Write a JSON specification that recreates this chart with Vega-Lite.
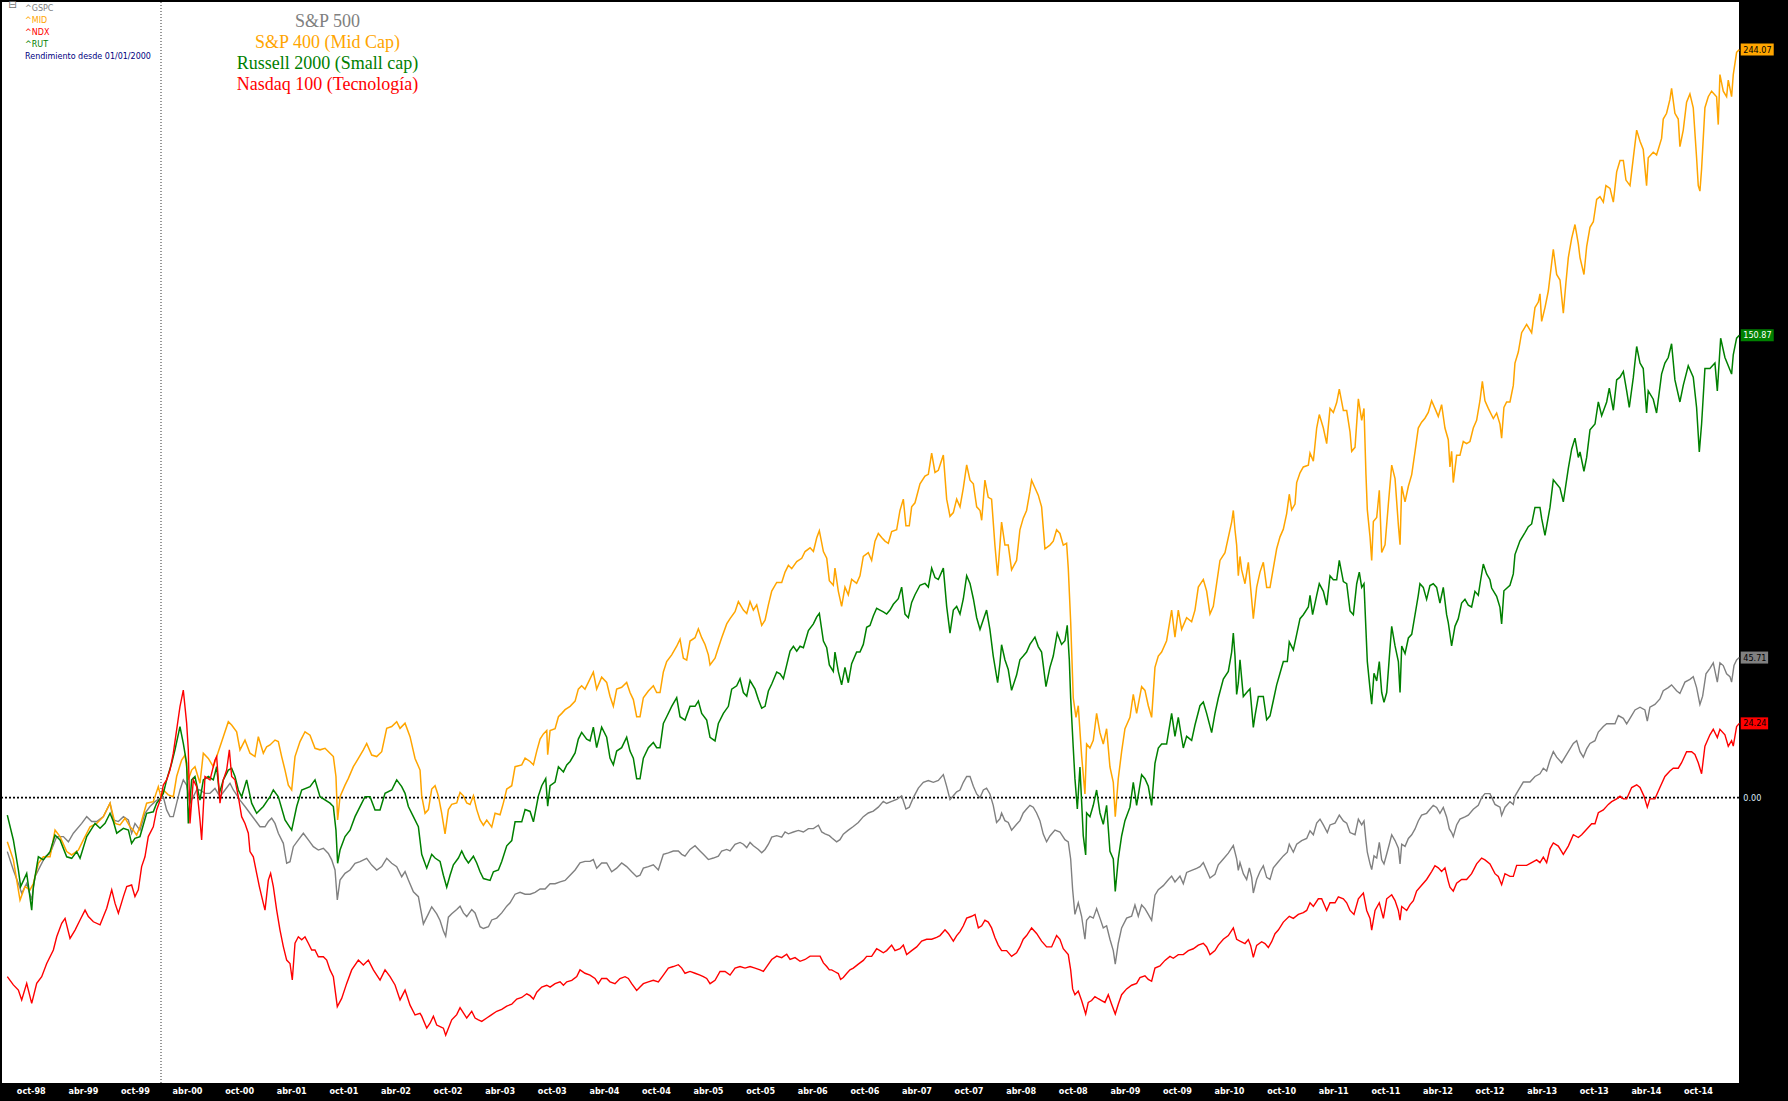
{
  "$schema": "https://vega.github.io/schema/vega-lite/v6.json",
  "width": 1737,
  "height": 1081,
  "autosize": {"type": "none"},
  "padding": {"left": 2, "top": 2, "right": 49, "bottom": 18},
  "background": "black",
  "config": {
    "view": {"fill": "white", "stroke": null},
    "axisY": {"disable": true},
    "axisX": {"titleOpacity": 0}
  },
  "datasets": {
    "spx": [
      {"t":1998.525,"v":-17.6},{"t":1998.583,"v":-23.6},{"t":1998.631,"v":-28.0},{"t":1998.663,"v":-31.2},{"t":1998.711,"v":-28.0},{"t":1998.759,"v":-33.4},{"t":1998.791,"v":-25.8},{"t":1998.839,"v":-22.5},{"t":1998.887,"v":-19.3},{"t":1998.935,"v":-18.2},{"t":1998.999,"v":-12.7},{"t":1999.063,"v":-12.7},{"t":1999.111,"v":-14.4},{"t":1999.159,"v":-11.6},{"t":1999.239,"v":-8.4},{"t":1999.287,"v":-6.2},{"t":1999.335,"v":-7.8},{"t":1999.383,"v":-7.8},{"t":1999.447,"v":-6.2},{"t":1999.511,"v":-1.8},{"t":1999.543,"v":-7.3},{"t":1999.591,"v":-7.8},{"t":1999.639,"v":-6.2},{"t":1999.687,"v":-7.3},{"t":1999.718,"v":-11.6},{"t":1999.750,"v":-8.4},{"t":1999.798,"v":-10.6},{"t":1999.846,"v":-5.1},{"t":1999.894,"v":-2.9},{"t":1999.942,"v":-1.3},{"t":2000.000,"v":0},
      {"t":2000.022,"v":0.3},{"t":2000.054,"v":-4.0},{"t":2000.086,"v":-6.2},{"t":2000.118,"v":-6.2},{"t":2000.150,"v":-1.8},{"t":2000.182,"v":2.5},{"t":2000.214,"v":5.8},{"t":2000.246,"v":4.1},{"t":2000.278,"v":-1.8},{"t":2000.310,"v":0.3},{"t":2000.342,"v":2.5},{"t":2000.374,"v":2.5},{"t":2000.422,"v":1.4},{"t":2000.470,"v":1.4},{"t":2000.518,"v":3.0},{"t":2000.566,"v":0.3},{"t":2000.614,"v":2.5},{"t":2000.662,"v":4.7},{"t":2000.694,"v":2.5},{"t":2000.726,"v":0.9},{"t":2000.758,"v":-0.8},{"t":2000.806,"v":-2.9},{"t":2000.854,"v":-5.1},{"t":2000.902,"v":-7.3},{"t":2000.950,"v":-9.5},{"t":2000.998,"v":-9.5},{"t":2001.030,"v":-7.8},{"t":2001.062,"v":-6.7},{"t":2001.094,"v":-8.4},{"t":2001.126,"v":-11.6},{"t":2001.174,"v":-14.9},{"t":2001.206,"v":-21.4},{"t":2001.238,"v":-20.9},{"t":2001.270,"v":-16.0},{"t":2001.318,"v":-13.8},{"t":2001.366,"v":-11.6},{"t":2001.414,"v":-13.8},{"t":2001.462,"v":-16.0},{"t":2001.510,"v":-17.1},{"t":2001.558,"v":-16.5},{"t":2001.606,"v":-18.2},{"t":2001.638,"v":-20.3},{"t":2001.670,"v":-23.6},{"t":2001.692,"v":-33.4},{"t":2001.718,"v":-26.9},{"t":2001.766,"v":-24.7},{"t":2001.814,"v":-23.6},{"t":2001.862,"v":-21.4},{"t":2001.910,"v":-20.9},{"t":2001.974,"v":-19.8},{"t":2002.022,"v":-22.0},{"t":2002.070,"v":-23.6},{"t":2002.118,"v":-22.5},{"t":2002.166,"v":-19.8},{"t":2002.214,"v":-21.4},{"t":2002.262,"v":-22.5},{"t":2002.310,"v":-25.8},{"t":2002.342,"v":-24.1},{"t":2002.374,"v":-26.9},{"t":2002.422,"v":-30.7},{"t":2002.470,"v":-32.3},
      {"t":2002.518,"v":-41.2},{"t":2002.566,"v":-37.9},{"t":2002.598,"v":-35.6},{"t":2002.646,"v":-37.9},{"t":2002.678,"v":-40.1},{"t":2002.710,"v":-43.5},{"t":2002.732,"v":-45.2},{"t":2002.758,"v":-39.0},{"t":2002.790,"v":-37.9},{"t":2002.838,"v":-36.5},{"t":2002.870,"v":-35.4},{"t":2002.902,"v":-37.6},{"t":2002.934,"v":-38.8},{"t":2002.982,"v":-36.5},{"t":2003.014,"v":-37.6},{"t":2003.062,"v":-42.1},{"t":2003.094,"v":-42.7},{"t":2003.142,"v":-42.1},{"t":2003.174,"v":-39.9},{"t":2003.222,"v":-39.3},{"t":2003.270,"v":-37.6},{"t":2003.318,"v":-35.4},{"t":2003.350,"v":-34.3},{"t":2003.398,"v":-31.5},{"t":2003.446,"v":-30.9},{"t":2003.494,"v":-31.5},{"t":2003.542,"v":-31.5},{"t":2003.590,"v":-30.9},{"t":2003.638,"v":-29.8},{"t":2003.686,"v":-29.8},{"t":2003.734,"v":-28.1},{"t":2003.782,"v":-28.1},{"t":2003.830,"v":-27.5},{"t":2003.878,"v":-27.0},{"t":2003.926,"v":-25.3},{"t":2003.974,"v":-23.6},{"t":2004.021,"v":-21.3},{"t":2004.069,"v":-20.8},{"t":2004.117,"v":-20.8},{"t":2004.149,"v":-20.2},{"t":2004.181,"v":-23.0},{"t":2004.229,"v":-21.3},{"t":2004.277,"v":-21.3},{"t":2004.325,"v":-24.2},{"t":2004.373,"v":-23.0},{"t":2004.421,"v":-21.3},{"t":2004.469,"v":-22.5},{"t":2004.517,"v":-24.2},{"t":2004.565,"v":-25.8},{"t":2004.597,"v":-25.3},{"t":2004.629,"v":-23.0},{"t":2004.677,"v":-22.5},{"t":2004.725,"v":-21.9},{"t":2004.773,"v":-23.6},{"t":2004.821,"v":-18.5},{"t":2004.869,"v":-18.0},{"t":2004.917,"v":-17.4},{"t":2004.965,"v":-17.4},{"t":2004.997,"v":-18.5},{"t":2005.029,"v":-19.1},{"t":2005.077,"v":-16.9},{"t":2005.125,"v":-15.7},{"t":2005.173,"v":-17.4},{"t":2005.205,"v":-18.5},{"t":2005.253,"v":-20.2},{"t":2005.301,"v":-19.7},{"t":2005.349,"v":-19.1},{"t":2005.381,"v":-17.4},{"t":2005.429,"v":-16.9},{"t":2005.461,"v":-17.4},{"t":2005.509,"v":-15.2},{"t":2005.557,"v":-14.6},{"t":2005.589,"v":-15.2},{"t":2005.621,"v":-16.3},{"t":2005.653,"v":-14.6},{"t":2005.685,"v":-15.7},{"t":2005.733,"v":-16.9},{"t":2005.765,"v":-18.0},{"t":2005.797,"v":-16.9},{"t":2005.829,"v":-15.2},{"t":2005.861,"v":-12.9},{"t":2005.909,"v":-12.4},{"t":2005.957,"v":-12.9},{"t":2005.989,"v":-11.2},{"t":2006.021,"v":-11.8},{"t":2006.069,"v":-11.2},{"t":2006.117,"v":-10.7},{"t":2006.165,"v":-11.2},{"t":2006.213,"v":-10.1},{"t":2006.261,"v":-10.1},{"t":2006.309,"v":-9.0},{"t":2006.341,"v":-11.2},{"t":2006.373,"v":-11.8},{"t":2006.414,"v":-12.4},
      {"t":2006.436,"v":-13.1},{"t":2006.484,"v":-14.4},{"t":2006.516,"v":-13.7},{"t":2006.548,"v":-11.9},{"t":2006.596,"v":-10.6},{"t":2006.644,"v":-9.4},{"t":2006.692,"v":-8.1},{"t":2006.740,"v":-6.2},{"t":2006.788,"v":-5.0},{"t":2006.836,"v":-4.4},{"t":2006.884,"v":-3.1},{"t":2006.932,"v":-1.2},{"t":2006.964,"v":-1.9},{"t":2007.012,"v":-1.2},{"t":2007.060,"v":-0.6},{"t":2007.108,"v":0.6},{"t":2007.149,"v":-3.7},{"t":2007.181,"v":-3.1},{"t":2007.220,"v":0.0},{"t":2007.268,"v":3.1},{"t":2007.316,"v":5.0},{"t":2007.364,"v":5.6},{"t":2007.412,"v":5.0},{"t":2007.460,"v":5.6},{"t":2007.508,"v":7.5},{"t":2007.540,"v":3.7},{"t":2007.572,"v":-0.6},{"t":2007.604,"v":0.6},{"t":2007.636,"v":1.9},{"t":2007.668,"v":2.5},{"t":2007.700,"v":5.0},{"t":2007.732,"v":6.9},{"t":2007.764,"v":6.9},{"t":2007.796,"v":3.7},{"t":2007.828,"v":1.2},{"t":2007.860,"v":0.0},{"t":2007.892,"v":2.5},{"t":2007.923,"v":3.1},{"t":2007.955,"v":1.2},{"t":2007.987,"v":-2.5},{"t":2008.019,"v":-8.1},{"t":2008.051,"v":-6.9},{"t":2008.067,"v":-5.0},{"t":2008.099,"v":-7.5},{"t":2008.131,"v":-8.1},{"t":2008.163,"v":-10.6},{"t":2008.211,"v":-8.7},{"t":2008.243,"v":-7.5},{"t":2008.275,"v":-5.0},{"t":2008.307,"v":-3.7},{"t":2008.339,"v":-2.5},{"t":2008.371,"v":-3.1},{"t":2008.403,"v":-5.0},{"t":2008.435,"v":-7.5},{"t":2008.467,"v":-11.9},{"t":2008.499,"v":-14.4},{"t":2008.531,"v":-12.5},{"t":2008.579,"v":-10.6},{"t":2008.627,"v":-11.2},{"t":2008.675,"v":-13.7},{"t":2008.707,"v":-14.4},{"t":2008.730,"v":-20.0},{"t":2008.749,"v":-30.0},{"t":2008.771,"v":-38.1},{"t":2008.803,"v":-34.3},{"t":2008.835,"v":-38.7},{"t":2008.867,"v":-46.2},{"t":2008.883,"v":-40.0},{"t":2008.915,"v":-38.7},{"t":2008.947,"v":-39.3},{"t":2008.979,"v":-36.2},{"t":2009.011,"v":-39.3},{"t":2009.043,"v":-42.5},{"t":2009.075,"v":-41.8},{"t":2009.107,"v":-46.2},{"t":2009.139,"v":-49.9},{"t":2009.158,"v":-54.3},{"t":2009.187,"v":-47.5},{"t":2009.219,"v":-42.5},{"t":2009.267,"v":-39.3},{"t":2009.315,"v":-38.7},{"t":2009.347,"v":-35.0},{"t":2009.379,"v":-38.7},{"t":2009.411,"v":-35.0},{"t":2009.443,"v":-36.2},{"t":2009.475,"v":-38.1},{"t":2009.507,"v":-40.0},{"t":2009.539,"v":-31.8},{"t":2009.571,"v":-30.0},{"t":2009.619,"v":-28.7},{"t":2009.667,"v":-26.8},{"t":2009.699,"v":-25.6},{"t":2009.731,"v":-27.5},{"t":2009.779,"v":-25.6},{"t":2009.811,"v":-28.1},{"t":2009.843,"v":-24.4},{"t":2009.891,"v":-23.7},{"t":2009.939,"v":-23.1},{"t":2009.971,"v":-22.5},{"t":2010.003,"v":-21.2},{"t":2010.035,"v":-23.7},{"t":2010.067,"v":-26.2},{"t":2010.115,"v":-25.0},{"t":2010.147,"v":-21.9},{"t":2010.195,"v":-20.0},{"t":2010.243,"v":-18.1},{"t":2010.291,"v":-15.6},{"t":2010.323,"v":-20.0},{"t":2010.339,"v":-23.7},{"t":2010.355,"v":-21.2},
      {"t":2010.387,"v":-24.8},{"t":2010.419,"v":-26.7},{"t":2010.445,"v":-22.9},{"t":2010.467,"v":-26.0},{"t":2010.483,"v":-31.1},{"t":2010.515,"v":-26.7},{"t":2010.547,"v":-24.1},{"t":2010.579,"v":-22.2},{"t":2010.611,"v":-26.0},{"t":2010.643,"v":-26.7},{"t":2010.675,"v":-22.9},{"t":2010.723,"v":-20.9},{"t":2010.771,"v":-19.0},{"t":2010.809,"v":-17.8},{"t":2010.828,"v":-15.2},{"t":2010.867,"v":-17.8},{"t":2010.899,"v":-15.2},{"t":2010.947,"v":-14.0},{"t":2010.995,"v":-13.3},{"t":2011.027,"v":-10.8},{"t":2011.059,"v":-12.1},{"t":2011.091,"v":-8.3},{"t":2011.123,"v":-7.0},{"t":2011.155,"v":-8.9},{"t":2011.193,"v":-11.4},{"t":2011.219,"v":-8.9},{"t":2011.267,"v":-8.3},{"t":2011.308,"v":-5.7},{"t":2011.347,"v":-7.6},{"t":2011.379,"v":-8.3},{"t":2011.411,"v":-11.4},{"t":2011.459,"v":-12.1},{"t":2011.491,"v":-7.0},{"t":2011.523,"v":-8.9},{"t":2011.545,"v":-7.6},{"t":2011.564,"v":-14.0},{"t":2011.577,"v":-17.8},{"t":2011.603,"v":-21.6},{"t":2011.619,"v":-23.5},{"t":2011.641,"v":-19.0},{"t":2011.667,"v":-19.7},{"t":2011.692,"v":-14.6},{"t":2011.715,"v":-20.3},{"t":2011.737,"v":-21.6},{"t":2011.763,"v":-18.4},{"t":2011.788,"v":-15.2},{"t":2011.811,"v":-12.1},{"t":2011.843,"v":-14.0},{"t":2011.875,"v":-16.5},{"t":2011.891,"v":-21.6},{"t":2011.907,"v":-15.2},{"t":2011.939,"v":-15.9},{"t":2011.971,"v":-13.3},{"t":2012.003,"v":-12.1},{"t":2012.035,"v":-10.2},{"t":2012.066,"v":-7.6},{"t":2012.098,"v":-5.7},{"t":2012.146,"v":-5.1},{"t":2012.178,"v":-3.8},{"t":2012.210,"v":-2.5},{"t":2012.242,"v":-3.2},{"t":2012.274,"v":-5.1},{"t":2012.306,"v":-3.2},{"t":2012.338,"v":-6.3},{"t":2012.364,"v":-10.2},{"t":2012.386,"v":-11.4},{"t":2012.402,"v":-12.7},{"t":2012.434,"v":-8.9},{"t":2012.466,"v":-7.0},{"t":2012.514,"v":-6.3},{"t":2012.546,"v":-5.7},{"t":2012.594,"v":-3.8},{"t":2012.642,"v":-2.5},{"t":2012.674,"v":0.0},{"t":2012.706,"v":1.3},{"t":2012.754,"v":1.3},
      {"t":2012.802,"v":-2.2},{"t":2012.850,"v":-3.1},{"t":2012.866,"v":-5.8},{"t":2012.898,"v":-3.1},{"t":2012.946,"v":-1.3},{"t":2012.978,"v":-2.2},{"t":2012.994,"v":0.5},{"t":2013.026,"v":2.4},{"t":2013.074,"v":5.1},{"t":2013.138,"v":5.1},{"t":2013.186,"v":6.9},{"t":2013.234,"v":7.8},{"t":2013.266,"v":9.6},{"t":2013.298,"v":8.7},{"t":2013.330,"v":12.3},{"t":2013.362,"v":15.0},{"t":2013.394,"v":13.2},{"t":2013.442,"v":11.4},{"t":2013.474,"v":13.2},{"t":2013.506,"v":15.0},{"t":2013.554,"v":17.7},{"t":2013.586,"v":18.6},{"t":2013.618,"v":15.0},{"t":2013.650,"v":13.2},{"t":2013.682,"v":15.9},{"t":2013.714,"v":17.7},{"t":2013.762,"v":18.6},{"t":2013.794,"v":21.4},{"t":2013.842,"v":23.2},{"t":2013.874,"v":24.1},{"t":2013.922,"v":24.1},{"t":2013.954,"v":24.1},{"t":2013.986,"v":26.8},{"t":2014.034,"v":25.9},{"t":2014.066,"v":24.1},{"t":2014.098,"v":25.9},{"t":2014.146,"v":28.6},{"t":2014.194,"v":29.5},{"t":2014.241,"v":28.6},{"t":2014.264,"v":25.0},{"t":2014.289,"v":29.5},{"t":2014.337,"v":30.4},{"t":2014.385,"v":32.2},{"t":2014.417,"v":34.9},{"t":2014.465,"v":35.9},{"t":2014.497,"v":36.8},{"t":2014.545,"v":34.9},{"t":2014.577,"v":34.0},{"t":2014.625,"v":37.7},{"t":2014.673,"v":38.6},{"t":2014.705,"v":39.5},{"t":2014.737,"v":35.9},{"t":2014.769,"v":30.4},{"t":2014.795,"v":33.1},{"t":2014.827,"v":40.4},{"t":2014.865,"v":42.2},{"t":2014.897,"v":44.0},{"t":2014.936,"v":37.7},{"t":2014.961,"v":44.0},{"t":2014.993,"v":43.1},{"t":2015.025,"v":40.4},{"t":2015.057,"v":39.5},{"t":2015.073,"v":37.7},{"t":2015.096,"v":43.1},{"t":2015.121,"v":44.9},{"t":2015.147,"v":45.71}
    ],
    "mid": [
      {"t":1998.525,"v":-14.4},{"t":1998.583,"v":-20.3},{"t":1998.647,"v":-33.4},{"t":1998.695,"v":-29.0},{"t":1998.743,"v":-30.1},{"t":1998.775,"v":-28.0},{"t":1998.823,"v":-21.4},{"t":1998.871,"v":-19.3},{"t":1998.935,"v":-19.3},{"t":1998.983,"v":-10.6},{"t":1999.031,"v":-12.7},{"t":1999.095,"v":-17.6},{"t":1999.143,"v":-18.7},{"t":1999.207,"v":-17.1},{"t":1999.255,"v":-13.8},{"t":1999.319,"v":-9.5},{"t":1999.383,"v":-8.4},{"t":1999.447,"v":-6.2},{"t":1999.511,"v":-1.8},{"t":1999.559,"v":-8.4},{"t":1999.607,"v":-8.9},{"t":1999.655,"v":-6.7},{"t":1999.703,"v":-9.5},{"t":1999.734,"v":-10.6},{"t":1999.766,"v":-12.2},{"t":1999.798,"v":-9.5},{"t":1999.862,"v":-1.8},{"t":1999.926,"v":-1.3},{"t":1999.974,"v":3.6},{"t":2000.000,"v":0},
      {"t":2000.022,"v":2.5},{"t":2000.070,"v":0.9},{"t":2000.118,"v":0.3},{"t":2000.150,"v":6.9},{"t":2000.198,"v":12.3},{"t":2000.230,"v":13.9},{"t":2000.262,"v":5.8},{"t":2000.294,"v":9.0},{"t":2000.326,"v":10.1},{"t":2000.374,"v":4.7},{"t":2000.406,"v":14.5},{"t":2000.454,"v":12.8},{"t":2000.502,"v":10.1},{"t":2000.550,"v":15.0},{"t":2000.598,"v":19.9},{"t":2000.646,"v":24.8},{"t":2000.678,"v":23.7},{"t":2000.726,"v":21.5},{"t":2000.758,"v":15.6},{"t":2000.806,"v":18.8},{"t":2000.854,"v":14.5},{"t":2000.902,"v":13.4},{"t":2000.934,"v":19.9},{"t":2000.982,"v":14.5},{"t":2001.014,"v":16.6},{"t":2001.046,"v":17.2},{"t":2001.094,"v":18.8},{"t":2001.126,"v":18.3},{"t":2001.158,"v":13.4},{"t":2001.190,"v":9.0},{"t":2001.222,"v":4.1},{"t":2001.254,"v":2.5},{"t":2001.286,"v":13.4},{"t":2001.334,"v":18.3},{"t":2001.382,"v":21.5},{"t":2001.430,"v":20.4},{"t":2001.478,"v":16.1},{"t":2001.526,"v":15.6},{"t":2001.574,"v":16.1},{"t":2001.622,"v":14.5},{"t":2001.654,"v":13.4},{"t":2001.679,"v":6.9},{"t":2001.695,"v":-7.3},{"t":2001.718,"v":0.3},{"t":2001.766,"v":4.1},{"t":2001.798,"v":6.3},{"t":2001.846,"v":10.1},{"t":2001.894,"v":12.8},{"t":2001.942,"v":15.6},{"t":2001.974,"v":17.7},{"t":2002.022,"v":13.9},{"t":2002.070,"v":13.4},{"t":2002.118,"v":15.0},{"t":2002.166,"v":22.6},{"t":2002.214,"v":23.2},{"t":2002.262,"v":24.8},{"t":2002.294,"v":22.6},{"t":2002.342,"v":24.3},{"t":2002.390,"v":19.9},{"t":2002.438,"v":12.8},{"t":2002.486,"v":9.0},
      {"t":2002.502,"v":0.6},{"t":2002.534,"v":-5.1},{"t":2002.566,"v":-3.9},{"t":2002.598,"v":2.8},{"t":2002.630,"v":3.9},{"t":2002.662,"v":0.6},{"t":2002.694,"v":-5.1},{"t":2002.726,"v":-11.8},{"t":2002.758,"v":-3.9},{"t":2002.790,"v":-2.2},{"t":2002.838,"v":-1.7},{"t":2002.870,"v":1.7},{"t":2002.902,"v":0.6},{"t":2002.934,"v":-1.7},{"t":2002.966,"v":-2.2},{"t":2002.998,"v":0.6},{"t":2003.030,"v":-3.9},{"t":2003.062,"v":-7.3},{"t":2003.094,"v":-9.0},{"t":2003.126,"v":-7.3},{"t":2003.174,"v":-9.6},{"t":2003.206,"v":-5.1},{"t":2003.254,"v":-5.6},{"t":2003.286,"v":-1.7},{"t":2003.318,"v":2.8},{"t":2003.366,"v":3.9},{"t":2003.398,"v":10.1},{"t":2003.462,"v":10.7},{"t":2003.494,"v":12.9},{"t":2003.542,"v":11.8},{"t":2003.574,"v":10.7},{"t":2003.606,"v":15.2},{"t":2003.638,"v":19.1},{"t":2003.670,"v":20.8},{"t":2003.702,"v":21.9},{"t":2003.711,"v":14.0},{"t":2003.734,"v":21.9},{"t":2003.782,"v":22.5},{"t":2003.814,"v":26.4},{"t":2003.846,"v":27.5},{"t":2003.878,"v":28.7},{"t":2003.926,"v":29.8},{"t":2003.974,"v":31.5},{"t":2004.005,"v":35.4},{"t":2004.037,"v":36.5},{"t":2004.069,"v":35.4},{"t":2004.101,"v":37.6},{"t":2004.149,"v":41.0},{"t":2004.181,"v":35.4},{"t":2004.229,"v":39.3},{"t":2004.277,"v":37.6},{"t":2004.309,"v":33.1},{"t":2004.341,"v":29.8},{"t":2004.373,"v":35.4},{"t":2004.421,"v":36.0},{"t":2004.469,"v":37.6},{"t":2004.501,"v":34.3},{"t":2004.533,"v":32.0},{"t":2004.565,"v":26.4},{"t":2004.597,"v":26.4},{"t":2004.629,"v":32.6},{"t":2004.677,"v":34.8},{"t":2004.725,"v":36.5},{"t":2004.757,"v":34.3},{"t":2004.789,"v":34.3},{"t":2004.821,"v":41.0},{"t":2004.853,"v":44.4},{"t":2004.901,"v":46.6},{"t":2004.949,"v":49.4},{"t":2004.981,"v":51.7},{"t":2005.013,"v":45.5},{"t":2005.045,"v":44.9},{"t":2005.077,"v":51.1},{"t":2005.125,"v":52.2},{"t":2005.157,"v":55.1},{"t":2005.189,"v":52.2},{"t":2005.221,"v":50.0},{"t":2005.253,"v":46.6},{"t":2005.269,"v":43.3},{"t":2005.317,"v":45.5},{"t":2005.349,"v":48.9},{"t":2005.381,"v":52.2},{"t":2005.429,"v":56.7},{"t":2005.461,"v":58.4},{"t":2005.509,"v":60.7},{"t":2005.541,"v":64.0},{"t":2005.589,"v":61.2},{"t":2005.621,"v":60.1},{"t":2005.653,"v":64.0},{"t":2005.685,"v":61.2},{"t":2005.717,"v":62.9},{"t":2005.765,"v":56.2},{"t":2005.797,"v":57.9},{"t":2005.829,"v":62.9},{"t":2005.861,"v":67.4},{"t":2005.909,"v":70.2},{"t":2005.957,"v":70.2},{"t":2005.989,"v":73.6},{"t":2006.021,"v":75.8},{"t":2006.053,"v":74.7},{"t":2006.101,"v":77.0},{"t":2006.149,"v":78.1},{"t":2006.181,"v":80.3},{"t":2006.229,"v":81.5},{"t":2006.261,"v":80.3},{"t":2006.293,"v":84.8},{"t":2006.318,"v":87.1},{"t":2006.357,"v":80.3},{"t":2006.389,"v":78.1},{"t":2006.414,"v":70.8},
      {"t":2006.452,"v":69.3},{"t":2006.468,"v":74.9},{"t":2006.500,"v":67.4},{"t":2006.532,"v":62.4},{"t":2006.564,"v":68.7},{"t":2006.596,"v":66.2},{"t":2006.628,"v":71.2},{"t":2006.676,"v":69.9},{"t":2006.708,"v":72.4},{"t":2006.740,"v":78.7},{"t":2006.788,"v":79.9},{"t":2006.820,"v":77.4},{"t":2006.852,"v":83.7},{"t":2006.884,"v":86.2},{"t":2006.916,"v":84.9},{"t":2006.948,"v":83.7},{"t":2006.980,"v":83.0},{"t":2007.012,"v":86.8},{"t":2007.060,"v":87.4},{"t":2007.092,"v":93.7},{"t":2007.124,"v":97.4},{"t":2007.149,"v":88.7},{"t":2007.181,"v":88.7},{"t":2007.204,"v":94.9},{"t":2007.236,"v":96.2},{"t":2007.284,"v":102.4},{"t":2007.332,"v":104.9},{"t":2007.364,"v":105.5},{"t":2007.396,"v":112.4},{"t":2007.428,"v":106.1},{"t":2007.460,"v":106.8},{"t":2007.508,"v":111.8},{"t":2007.540,"v":97.4},{"t":2007.572,"v":91.8},{"t":2007.604,"v":93.0},{"t":2007.636,"v":97.4},{"t":2007.668,"v":94.9},{"t":2007.700,"v":101.1},{"t":2007.732,"v":108.6},{"t":2007.764,"v":103.6},{"t":2007.796,"v":102.4},{"t":2007.828,"v":94.9},{"t":2007.860,"v":93.7},{"t":2007.876,"v":90.5},{"t":2007.907,"v":103.6},{"t":2007.939,"v":98.0},{"t":2007.971,"v":97.4},{"t":2008.003,"v":82.4},{"t":2008.029,"v":72.4},{"t":2008.051,"v":82.4},{"t":2008.067,"v":89.9},{"t":2008.099,"v":82.4},{"t":2008.131,"v":82.4},{"t":2008.163,"v":74.3},{"t":2008.211,"v":77.4},{"t":2008.243,"v":87.4},{"t":2008.275,"v":91.2},{"t":2008.307,"v":93.7},{"t":2008.339,"v":99.9},{"t":2008.355,"v":103.6},{"t":2008.387,"v":101.1},{"t":2008.419,"v":98.7},{"t":2008.451,"v":94.9},{"t":2008.483,"v":81.2},{"t":2008.531,"v":82.4},{"t":2008.563,"v":83.7},{"t":2008.595,"v":87.4},{"t":2008.627,"v":86.2},{"t":2008.659,"v":82.4},{"t":2008.691,"v":83.0},{"t":2008.707,"v":74.9},{"t":2008.730,"v":57.4},{"t":2008.755,"v":32.5},{"t":2008.781,"v":26.2},{"t":2008.803,"v":30.0},{"t":2008.835,"v":13.7},{"t":2008.867,"v":1.2},{"t":2008.883,"v":17.5},{"t":2008.915,"v":16.2},{"t":2008.947,"v":18.7},{"t":2008.979,"v":27.5},{"t":2009.011,"v":21.2},{"t":2009.043,"v":17.5},{"t":2009.075,"v":22.5},{"t":2009.107,"v":10.0},{"t":2009.139,"v":5.0},{"t":2009.158,"v":-6.2},{"t":2009.187,"v":6.2},{"t":2009.219,"v":15.0},{"t":2009.251,"v":22.5},{"t":2009.299,"v":26.2},{"t":2009.331,"v":33.7},{"t":2009.363,"v":27.5},{"t":2009.411,"v":36.2},{"t":2009.443,"v":35.0},{"t":2009.475,"v":30.0},{"t":2009.507,"v":26.2},{"t":2009.539,"v":42.5},{"t":2009.571,"v":46.2},{"t":2009.603,"v":47.5},{"t":2009.651,"v":51.2},{"t":2009.699,"v":61.2},{"t":2009.731,"v":52.4},{"t":2009.763,"v":61.2},{"t":2009.795,"v":54.9},{"t":2009.843,"v":58.7},{"t":2009.891,"v":57.4},{"t":2009.923,"v":61.2},{"t":2009.955,"v":68.7},{"t":2010.003,"v":71.2},{"t":2010.035,"v":67.4},{"t":2010.067,"v":59.9},{"t":2010.099,"v":62.4},{"t":2010.131,"v":69.9},{"t":2010.163,"v":77.4},{"t":2010.211,"v":79.9},{"t":2010.243,"v":84.9},{"t":2010.275,"v":89.9},{"t":2010.291,"v":93.7},{"t":2010.307,"v":87.4},{"t":2010.323,"v":82.4},{"t":2010.339,"v":72.4},{"t":2010.355,"v":78.7},
      {"t":2010.371,"v":74.3},{"t":2010.403,"v":69.8},{"t":2010.435,"v":76.8},{"t":2010.467,"v":64.7},{"t":2010.483,"v":58.4},{"t":2010.515,"v":68.6},{"t":2010.547,"v":73.6},{"t":2010.579,"v":76.8},{"t":2010.611,"v":68.6},{"t":2010.643,"v":68.6},{"t":2010.675,"v":74.9},{"t":2010.707,"v":81.2},{"t":2010.739,"v":85.1},{"t":2010.771,"v":87.6},{"t":2010.803,"v":92.7},{"t":2010.828,"v":99.0},{"t":2010.851,"v":93.9},{"t":2010.883,"v":95.8},{"t":2010.899,"v":102.8},{"t":2010.931,"v":106.0},{"t":2010.963,"v":107.9},{"t":2011.011,"v":108.5},{"t":2011.027,"v":112.4},{"t":2011.059,"v":109.8},{"t":2011.091,"v":120.6},{"t":2011.116,"v":125.0},{"t":2011.155,"v":120.6},{"t":2011.187,"v":115.5},{"t":2011.219,"v":127.0},{"t":2011.251,"v":125.7},{"t":2011.283,"v":128.9},{"t":2011.308,"v":133.3},{"t":2011.347,"v":126.3},{"t":2011.379,"v":126.3},{"t":2011.411,"v":119.3},{"t":2011.427,"v":113.0},{"t":2011.459,"v":114.3},{"t":2011.491,"v":130.1},{"t":2011.523,"v":123.1},{"t":2011.545,"v":127.0},{"t":2011.564,"v":105.4},{"t":2011.577,"v":93.9},{"t":2011.603,"v":85.1},{"t":2011.619,"v":77.4},{"t":2011.635,"v":90.1},{"t":2011.667,"v":91.4},{"t":2011.692,"v":100.3},{"t":2011.715,"v":80.0},{"t":2011.747,"v":82.5},{"t":2011.779,"v":95.8},{"t":2011.811,"v":108.5},{"t":2011.843,"v":104.1},{"t":2011.875,"v":88.9},{"t":2011.891,"v":82.5},{"t":2011.907,"v":101.6},{"t":2011.939,"v":96.5},{"t":2011.971,"v":101.6},{"t":2012.003,"v":105.4},{"t":2012.035,"v":113.0},{"t":2012.066,"v":120.6},{"t":2012.098,"v":122.5},{"t":2012.130,"v":123.8},{"t":2012.162,"v":125.7},{"t":2012.194,"v":129.5},{"t":2012.226,"v":127.0},{"t":2012.258,"v":124.4},{"t":2012.290,"v":128.2},{"t":2012.322,"v":120.6},{"t":2012.354,"v":116.8},{"t":2012.370,"v":107.9},{"t":2012.386,"v":113.0},{"t":2012.402,"v":102.8},{"t":2012.434,"v":111.7},{"t":2012.466,"v":111.7},{"t":2012.498,"v":116.2},{"t":2012.530,"v":115.5},{"t":2012.562,"v":116.2},{"t":2012.594,"v":120.6},{"t":2012.626,"v":123.1},{"t":2012.658,"v":129.5},{"t":2012.681,"v":135.8},{"t":2012.706,"v":129.5},{"t":2012.738,"v":127.0},
      {"t":2012.786,"v":123.7},{"t":2012.818,"v":125.5},{"t":2012.850,"v":121.9},{"t":2012.866,"v":117.3},{"t":2012.888,"v":127.3},{"t":2012.914,"v":129.1},{"t":2012.946,"v":129.1},{"t":2012.978,"v":134.5},{"t":2012.994,"v":141.8},{"t":2013.026,"v":145.4},{"t":2013.058,"v":151.7},{"t":2013.106,"v":154.4},{"t":2013.154,"v":151.7},{"t":2013.186,"v":159.9},{"t":2013.218,"v":161.7},{"t":2013.234,"v":164.4},{"t":2013.250,"v":155.4},{"t":2013.282,"v":159.9},{"t":2013.314,"v":165.3},{"t":2013.346,"v":174.4},{"t":2013.362,"v":178.9},{"t":2013.394,"v":170.7},{"t":2013.426,"v":168.9},{"t":2013.458,"v":158.1},{"t":2013.483,"v":168.0},{"t":2013.506,"v":176.2},{"t":2013.538,"v":182.5},{"t":2013.570,"v":187.0},{"t":2013.602,"v":180.7},{"t":2013.618,"v":176.2},{"t":2013.656,"v":170.7},{"t":2013.682,"v":179.8},{"t":2013.714,"v":186.1},{"t":2013.746,"v":187.9},{"t":2013.778,"v":195.2},{"t":2013.810,"v":196.1},{"t":2013.842,"v":194.3},{"t":2013.867,"v":199.7},{"t":2013.906,"v":198.8},{"t":2013.938,"v":194.3},{"t":2013.970,"v":204.2},{"t":2014.002,"v":207.9},{"t":2014.034,"v":207.9},{"t":2014.059,"v":201.5},{"t":2014.098,"v":199.7},{"t":2014.130,"v":208.8},{"t":2014.162,"v":217.8},{"t":2014.194,"v":214.2},{"t":2014.225,"v":211.5},{"t":2014.257,"v":199.7},{"t":2014.273,"v":208.8},{"t":2014.321,"v":210.6},{"t":2014.353,"v":209.7},{"t":2014.401,"v":215.1},{"t":2014.417,"v":221.4},{"t":2014.449,"v":223.3},{"t":2014.481,"v":227.8},{"t":2014.497,"v":231.4},{"t":2014.529,"v":223.3},{"t":2014.561,"v":221.4},{"t":2014.577,"v":212.4},{"t":2014.609,"v":217.8},{"t":2014.641,"v":226.9},{"t":2014.673,"v":229.6},{"t":2014.705,"v":225.1},{"t":2014.737,"v":208.8},{"t":2014.753,"v":199.7},{"t":2014.769,"v":197.9},{"t":2014.785,"v":205.1},{"t":2014.817,"v":225.1},{"t":2014.849,"v":228.7},{"t":2014.881,"v":230.5},{"t":2014.929,"v":228.7},{"t":2014.945,"v":219.6},{"t":2014.961,"v":235.9},{"t":2014.993,"v":230.5},{"t":2015.025,"v":228.7},{"t":2015.041,"v":234.1},{"t":2015.073,"v":228.7},{"t":2015.089,"v":235.9},{"t":2015.121,"v":243.2},{"t":2015.147,"v":244.07}
    ],
    "rut": [
      {"t":1998.525,"v":-5.7},{"t":1998.583,"v":-13.8},{"t":1998.631,"v":-23.6},{"t":1998.653,"v":-29.0},{"t":1998.711,"v":-24.7},{"t":1998.759,"v":-36.7},{"t":1998.775,"v":-29.0},{"t":1998.823,"v":-19.3},{"t":1998.871,"v":-20.3},{"t":1998.935,"v":-17.6},{"t":1998.983,"v":-12.2},{"t":1999.031,"v":-13.8},{"t":1999.095,"v":-19.3},{"t":1999.143,"v":-19.8},{"t":1999.191,"v":-17.6},{"t":1999.223,"v":-19.8},{"t":1999.287,"v":-12.7},{"t":1999.367,"v":-8.4},{"t":1999.415,"v":-10.0},{"t":1999.463,"v":-8.4},{"t":1999.511,"v":-5.1},{"t":1999.543,"v":-7.8},{"t":1999.575,"v":-11.6},{"t":1999.639,"v":-10.0},{"t":1999.687,"v":-10.6},{"t":1999.718,"v":-14.9},{"t":1999.750,"v":-13.3},{"t":1999.798,"v":-12.7},{"t":1999.862,"v":-5.1},{"t":1999.926,"v":-4.6},{"t":1999.958,"v":-1.8},{"t":2000.000,"v":0},
      {"t":2000.022,"v":1.4},{"t":2000.054,"v":5.8},{"t":2000.102,"v":11.2},{"t":2000.134,"v":15.6},{"t":2000.182,"v":23.2},{"t":2000.214,"v":17.7},{"t":2000.246,"v":11.2},{"t":2000.262,"v":-8.4},{"t":2000.294,"v":5.8},{"t":2000.326,"v":6.9},{"t":2000.374,"v":-0.8},{"t":2000.406,"v":5.8},{"t":2000.454,"v":6.9},{"t":2000.502,"v":5.8},{"t":2000.534,"v":10.1},{"t":2000.560,"v":1.4},{"t":2000.598,"v":5.8},{"t":2000.646,"v":9.0},{"t":2000.678,"v":9.6},{"t":2000.710,"v":6.9},{"t":2000.742,"v":2.5},{"t":2000.774,"v":0.3},{"t":2000.822,"v":5.8},{"t":2000.870,"v":-1.8},{"t":2000.918,"v":-5.1},{"t":2000.982,"v":-2.9},{"t":2001.046,"v":0.3},{"t":2001.078,"v":2.5},{"t":2001.126,"v":0.3},{"t":2001.190,"v":-7.3},{"t":2001.254,"v":-10.6},{"t":2001.302,"v":-2.9},{"t":2001.350,"v":2.5},{"t":2001.430,"v":3.6},{"t":2001.478,"v":5.8},{"t":2001.526,"v":0.3},{"t":2001.622,"v":-1.8},{"t":2001.654,"v":-2.9},{"t":2001.679,"v":-10.6},{"t":2001.695,"v":-21.4},{"t":2001.718,"v":-17.1},{"t":2001.766,"v":-12.7},{"t":2001.814,"v":-10.6},{"t":2001.862,"v":-6.2},{"t":2001.910,"v":-2.9},{"t":2001.958,"v":0.3},{"t":2002.006,"v":0.3},{"t":2002.054,"v":-4.0},{"t":2002.102,"v":-4.0},{"t":2002.150,"v":1.4},{"t":2002.214,"v":2.5},{"t":2002.262,"v":5.8},{"t":2002.310,"v":3.6},{"t":2002.342,"v":1.4},{"t":2002.374,"v":-2.9},{"t":2002.422,"v":-6.2},{"t":2002.470,"v":-9.5},
      {"t":2002.502,"v":-18.5},{"t":2002.550,"v":-23.0},{"t":2002.598,"v":-18.5},{"t":2002.630,"v":-19.7},{"t":2002.678,"v":-20.8},{"t":2002.710,"v":-25.3},{"t":2002.742,"v":-29.2},{"t":2002.774,"v":-25.3},{"t":2002.806,"v":-21.9},{"t":2002.854,"v":-19.7},{"t":2002.886,"v":-17.4},{"t":2002.918,"v":-19.7},{"t":2002.950,"v":-21.3},{"t":2002.998,"v":-19.1},{"t":2003.030,"v":-21.3},{"t":2003.062,"v":-24.2},{"t":2003.094,"v":-26.4},{"t":2003.158,"v":-27.0},{"t":2003.190,"v":-24.2},{"t":2003.238,"v":-23.6},{"t":2003.270,"v":-20.8},{"t":2003.318,"v":-15.7},{"t":2003.366,"v":-14.0},{"t":2003.398,"v":-7.9},{"t":2003.462,"v":-7.9},{"t":2003.494,"v":-3.9},{"t":2003.542,"v":-4.5},{"t":2003.574,"v":-7.9},{"t":2003.622,"v":0.6},{"t":2003.654,"v":3.9},{"t":2003.692,"v":6.2},{"t":2003.711,"v":-2.8},{"t":2003.734,"v":3.9},{"t":2003.782,"v":5.1},{"t":2003.814,"v":10.1},{"t":2003.862,"v":8.4},{"t":2003.894,"v":10.7},{"t":2003.926,"v":11.8},{"t":2003.974,"v":14.6},{"t":2004.005,"v":19.1},{"t":2004.037,"v":21.3},{"t":2004.085,"v":19.1},{"t":2004.117,"v":18.5},{"t":2004.149,"v":23.0},{"t":2004.181,"v":16.3},{"t":2004.229,"v":23.0},{"t":2004.277,"v":19.7},{"t":2004.309,"v":12.9},{"t":2004.341,"v":10.7},{"t":2004.373,"v":15.2},{"t":2004.421,"v":16.3},{"t":2004.469,"v":19.7},{"t":2004.501,"v":15.2},{"t":2004.533,"v":12.9},{"t":2004.565,"v":6.2},{"t":2004.597,"v":6.2},{"t":2004.629,"v":12.9},{"t":2004.677,"v":16.3},{"t":2004.725,"v":18.0},{"t":2004.757,"v":16.3},{"t":2004.789,"v":16.3},{"t":2004.821,"v":24.2},{"t":2004.853,"v":26.4},{"t":2004.901,"v":29.8},{"t":2004.949,"v":32.6},{"t":2004.981,"v":26.4},{"t":2005.029,"v":25.3},{"t":2005.077,"v":29.8},{"t":2005.125,"v":29.8},{"t":2005.157,"v":31.5},{"t":2005.189,"v":27.5},{"t":2005.237,"v":25.3},{"t":2005.269,"v":19.7},{"t":2005.317,"v":18.5},{"t":2005.349,"v":24.2},{"t":2005.397,"v":27.5},{"t":2005.445,"v":29.8},{"t":2005.477,"v":35.4},{"t":2005.525,"v":36.5},{"t":2005.557,"v":38.8},{"t":2005.589,"v":34.3},{"t":2005.621,"v":33.1},{"t":2005.653,"v":38.2},{"t":2005.701,"v":35.4},{"t":2005.733,"v":32.0},{"t":2005.765,"v":29.2},{"t":2005.797,"v":29.8},{"t":2005.829,"v":34.8},{"t":2005.861,"v":37.1},{"t":2005.909,"v":41.0},{"t":2005.941,"v":40.4},{"t":2005.973,"v":38.8},{"t":2006.005,"v":43.3},{"t":2006.037,"v":47.8},{"t":2006.069,"v":49.4},{"t":2006.101,"v":47.8},{"t":2006.133,"v":49.4},{"t":2006.165,"v":48.9},{"t":2006.213,"v":54.5},{"t":2006.261,"v":56.7},{"t":2006.293,"v":59.0},{"t":2006.318,"v":60.1},{"t":2006.357,"v":51.1},{"t":2006.389,"v":48.9},{"t":2006.414,"v":43.3},
      {"t":2006.452,"v":41.2},{"t":2006.468,"v":47.5},{"t":2006.500,"v":41.2},{"t":2006.532,"v":36.8},{"t":2006.564,"v":42.5},{"t":2006.596,"v":37.5},{"t":2006.628,"v":43.7},{"t":2006.676,"v":47.5},{"t":2006.708,"v":47.5},{"t":2006.740,"v":50.0},{"t":2006.772,"v":55.6},{"t":2006.804,"v":56.2},{"t":2006.836,"v":59.3},{"t":2006.868,"v":61.8},{"t":2006.900,"v":61.2},{"t":2006.932,"v":60.6},{"t":2006.964,"v":59.9},{"t":2006.996,"v":61.2},{"t":2007.028,"v":63.1},{"t":2007.076,"v":64.9},{"t":2007.108,"v":68.7},{"t":2007.140,"v":59.9},{"t":2007.172,"v":58.7},{"t":2007.204,"v":63.7},{"t":2007.236,"v":66.2},{"t":2007.284,"v":69.3},{"t":2007.332,"v":69.9},{"t":2007.364,"v":68.7},{"t":2007.396,"v":74.9},{"t":2007.428,"v":71.8},{"t":2007.460,"v":71.2},{"t":2007.508,"v":74.9},{"t":2007.540,"v":62.4},{"t":2007.572,"v":53.7},{"t":2007.604,"v":61.2},{"t":2007.636,"v":62.4},{"t":2007.668,"v":59.9},{"t":2007.700,"v":64.9},{"t":2007.732,"v":72.4},{"t":2007.764,"v":69.9},{"t":2007.796,"v":64.9},{"t":2007.828,"v":58.7},{"t":2007.860,"v":54.9},{"t":2007.892,"v":58.1},{"t":2007.923,"v":61.2},{"t":2007.955,"v":54.9},{"t":2007.987,"v":46.2},{"t":2008.029,"v":37.5},{"t":2008.051,"v":43.7},{"t":2008.067,"v":49.9},{"t":2008.099,"v":45.0},{"t":2008.131,"v":41.8},{"t":2008.163,"v":35.0},{"t":2008.211,"v":40.0},{"t":2008.243,"v":45.0},{"t":2008.275,"v":46.2},{"t":2008.307,"v":47.5},{"t":2008.339,"v":50.0},{"t":2008.387,"v":52.4},{"t":2008.419,"v":49.3},{"t":2008.451,"v":47.5},{"t":2008.493,"v":36.2},{"t":2008.531,"v":42.5},{"t":2008.563,"v":46.2},{"t":2008.601,"v":53.7},{"t":2008.643,"v":50.0},{"t":2008.675,"v":51.2},{"t":2008.697,"v":56.2},{"t":2008.717,"v":45.0},{"t":2008.730,"v":32.5},{"t":2008.755,"v":16.2},{"t":2008.771,"v":6.2},{"t":2008.794,"v":-3.7},{"t":2008.819,"v":10.0},{"t":2008.851,"v":-12.5},{"t":2008.874,"v":-18.7},{"t":2008.883,"v":-5.0},{"t":2008.915,"v":-6.2},{"t":2008.947,"v":-2.5},{"t":2008.979,"v":2.5},{"t":2009.011,"v":-5.0},{"t":2009.043,"v":-8.7},{"t":2009.075,"v":-2.5},{"t":2009.107,"v":-17.5},{"t":2009.139,"v":-20.0},{"t":2009.158,"v":-30.6},{"t":2009.187,"v":-20.0},{"t":2009.219,"v":-12.5},{"t":2009.251,"v":-7.5},{"t":2009.299,"v":-3.1},{"t":2009.331,"v":5.0},{"t":2009.363,"v":-2.5},{"t":2009.411,"v":7.5},{"t":2009.443,"v":6.2},{"t":2009.475,"v":3.7},{"t":2009.507,"v":-2.5},{"t":2009.539,"v":11.2},{"t":2009.571,"v":16.2},{"t":2009.603,"v":17.5},{"t":2009.651,"v":17.5},{"t":2009.699,"v":27.5},{"t":2009.731,"v":20.0},{"t":2009.763,"v":26.2},{"t":2009.811,"v":16.2},{"t":2009.843,"v":20.0},{"t":2009.891,"v":18.7},{"t":2009.923,"v":23.7},{"t":2009.971,"v":30.0},{"t":2010.003,"v":31.2},{"t":2010.035,"v":27.5},{"t":2010.083,"v":21.2},{"t":2010.115,"v":27.5},{"t":2010.147,"v":32.5},{"t":2010.195,"v":38.7},{"t":2010.243,"v":41.2},{"t":2010.275,"v":47.5},{"t":2010.291,"v":53.7},{"t":2010.307,"v":46.2},{"t":2010.323,"v":33.7},{"t":2010.339,"v":37.5},{"t":2010.355,"v":45.0},
      {"t":2010.387,"v":33.0},{"t":2010.419,"v":34.3},{"t":2010.451,"v":35.5},{"t":2010.483,"v":22.9},{"t":2010.499,"v":26.7},{"t":2010.531,"v":33.0},{"t":2010.579,"v":33.0},{"t":2010.611,"v":25.4},{"t":2010.643,"v":26.7},{"t":2010.675,"v":31.7},{"t":2010.707,"v":36.8},{"t":2010.739,"v":40.6},{"t":2010.771,"v":44.4},{"t":2010.809,"v":44.4},{"t":2010.828,"v":50.8},{"t":2010.867,"v":48.2},{"t":2010.899,"v":53.3},{"t":2010.931,"v":58.4},{"t":2010.963,"v":59.7},{"t":2011.011,"v":62.2},{"t":2011.027,"v":66.0},{"t":2011.052,"v":59.7},{"t":2011.091,"v":66.0},{"t":2011.116,"v":69.8},{"t":2011.155,"v":67.3},{"t":2011.187,"v":62.8},{"t":2011.219,"v":72.4},{"t":2011.251,"v":71.1},{"t":2011.283,"v":71.1},{"t":2011.308,"v":77.4},{"t":2011.347,"v":70.5},{"t":2011.379,"v":69.8},{"t":2011.411,"v":60.9},{"t":2011.443,"v":59.7},{"t":2011.475,"v":69.8},{"t":2011.500,"v":73.6},{"t":2011.523,"v":68.6},{"t":2011.545,"v":69.8},{"t":2011.564,"v":54.6},{"t":2011.577,"v":44.4},{"t":2011.603,"v":35.5},{"t":2011.619,"v":30.5},{"t":2011.641,"v":40.6},{"t":2011.667,"v":38.1},{"t":2011.692,"v":44.4},{"t":2011.715,"v":34.3},{"t":2011.737,"v":31.1},{"t":2011.763,"v":34.3},{"t":2011.788,"v":45.7},{"t":2011.811,"v":55.9},{"t":2011.843,"v":49.5},{"t":2011.875,"v":44.4},{"t":2011.891,"v":34.3},{"t":2011.907,"v":49.5},{"t":2011.939,"v":47.0},{"t":2011.971,"v":52.1},{"t":2012.003,"v":53.3},{"t":2012.035,"v":59.7},{"t":2012.066,"v":66.0},{"t":2012.082,"v":69.8},{"t":2012.114,"v":68.6},{"t":2012.146,"v":64.7},{"t":2012.178,"v":69.2},{"t":2012.210,"v":69.8},{"t":2012.242,"v":68.6},{"t":2012.274,"v":63.5},{"t":2012.306,"v":68.6},{"t":2012.338,"v":59.7},{"t":2012.354,"v":57.1},{"t":2012.386,"v":49.5},{"t":2012.418,"v":55.9},{"t":2012.450,"v":58.4},{"t":2012.482,"v":63.5},{"t":2012.514,"v":64.7},{"t":2012.546,"v":62.8},{"t":2012.578,"v":62.2},{"t":2012.610,"v":67.3},{"t":2012.642,"v":66.0},{"t":2012.665,"v":71.1},{"t":2012.690,"v":76.2},{"t":2012.722,"v":73.0},{"t":2012.754,"v":71.1},
      {"t":2012.770,"v":68.4},{"t":2012.818,"v":65.7},{"t":2012.850,"v":62.1},{"t":2012.866,"v":56.7},{"t":2012.888,"v":67.5},{"t":2012.946,"v":69.3},{"t":2012.978,"v":73.0},{"t":2012.994,"v":79.3},{"t":2013.042,"v":83.8},{"t":2013.090,"v":86.5},{"t":2013.122,"v":88.4},{"t":2013.154,"v":89.3},{"t":2013.186,"v":94.7},{"t":2013.234,"v":94.7},{"t":2013.250,"v":91.1},{"t":2013.282,"v":85.6},{"t":2013.330,"v":94.7},{"t":2013.362,"v":103.7},{"t":2013.426,"v":101.0},{"t":2013.458,"v":96.5},{"t":2013.506,"v":107.4},{"t":2013.538,"v":113.7},{"t":2013.570,"v":117.3},{"t":2013.602,"v":111.0},{"t":2013.618,"v":112.8},{"t":2013.656,"v":106.5},{"t":2013.682,"v":111.0},{"t":2013.714,"v":120.0},{"t":2013.762,"v":121.9},{"t":2013.794,"v":129.1},{"t":2013.826,"v":124.6},{"t":2013.874,"v":129.1},{"t":2013.899,"v":133.6},{"t":2013.938,"v":126.4},{"t":2013.970,"v":136.3},{"t":2014.002,"v":137.2},{"t":2014.034,"v":139.1},{"t":2014.066,"v":132.7},{"t":2014.091,"v":127.3},{"t":2014.130,"v":137.2},{"t":2014.162,"v":147.2},{"t":2014.194,"v":141.8},{"t":2014.225,"v":140.0},{"t":2014.257,"v":125.5},{"t":2014.273,"v":132.7},{"t":2014.321,"v":130.0},{"t":2014.353,"v":125.5},{"t":2014.401,"v":138.2},{"t":2014.433,"v":141.8},{"t":2014.465,"v":143.6},{"t":2014.497,"v":148.1},{"t":2014.529,"v":136.3},{"t":2014.577,"v":129.1},{"t":2014.609,"v":134.5},{"t":2014.657,"v":140.9},{"t":2014.705,"v":137.2},{"t":2014.737,"v":127.3},{"t":2014.763,"v":112.8},{"t":2014.785,"v":121.9},{"t":2014.817,"v":140.0},{"t":2014.865,"v":140.0},{"t":2014.913,"v":141.8},{"t":2014.936,"v":132.7},{"t":2014.968,"v":149.9},{"t":2015.009,"v":143.6},{"t":2015.041,"v":140.9},{"t":2015.073,"v":138.2},{"t":2015.089,"v":144.5},{"t":2015.121,"v":149.9},{"t":2015.147,"v":150.87}
    ],
    "ndx": [
      {"t":1998.525,"v":-58.4},{"t":1998.583,"v":-61.1},{"t":1998.631,"v":-62.8},{"t":1998.663,"v":-66.0},{"t":1998.711,"v":-60.6},{"t":1998.759,"v":-67.1},{"t":1998.807,"v":-60.6},{"t":1998.855,"v":-58.4},{"t":1998.903,"v":-54.1},{"t":1998.967,"v":-49.7},{"t":1998.999,"v":-45.4},{"t":1999.047,"v":-41.0},{"t":1999.079,"v":-39.4},{"t":1999.127,"v":-45.9},{"t":1999.175,"v":-43.2},{"t":1999.223,"v":-39.9},{"t":1999.271,"v":-36.7},{"t":1999.303,"v":-38.8},{"t":1999.351,"v":-40.5},{"t":1999.415,"v":-41.5},{"t":1999.447,"v":-38.8},{"t":1999.479,"v":-36.1},{"t":1999.527,"v":-30.1},{"t":1999.559,"v":-34.5},{"t":1999.591,"v":-37.7},{"t":1999.639,"v":-32.3},{"t":1999.671,"v":-29.0},{"t":1999.718,"v":-28.5},{"t":1999.750,"v":-32.3},{"t":1999.782,"v":-30.1},{"t":1999.814,"v":-22.5},{"t":1999.846,"v":-19.3},{"t":1999.878,"v":-12.7},{"t":1999.926,"v":-9.5},{"t":1999.958,"v":-4.0},{"t":2000.000,"v":0},
      {"t":2000.022,"v":4.1},{"t":2000.054,"v":5.8},{"t":2000.086,"v":9.0},{"t":2000.118,"v":14.5},{"t":2000.150,"v":22.1},{"t":2000.182,"v":29.7},{"t":2000.214,"v":35.1},{"t":2000.246,"v":24.3},{"t":2000.262,"v":15.6},{"t":2000.278,"v":-8.4},{"t":2000.310,"v":5.8},{"t":2000.342,"v":3.6},{"t":2000.374,"v":-7.3},{"t":2000.390,"v":-13.8},{"t":2000.422,"v":6.9},{"t":2000.470,"v":5.8},{"t":2000.518,"v":12.3},{"t":2000.534,"v":13.4},{"t":2000.566,"v":-1.8},{"t":2000.598,"v":5.8},{"t":2000.630,"v":9.0},{"t":2000.656,"v":15.6},{"t":2000.678,"v":6.9},{"t":2000.710,"v":5.8},{"t":2000.742,"v":0.3},{"t":2000.774,"v":-6.2},{"t":2000.806,"v":-8.4},{"t":2000.838,"v":-11.6},{"t":2000.854,"v":-17.6},{"t":2000.886,"v":-19.3},{"t":2000.918,"v":-24.7},{"t":2000.944,"v":-29.0},{"t":2000.982,"v":-34.5},{"t":2000.998,"v":-36.7},{"t":2001.030,"v":-26.9},{"t":2001.052,"v":-24.7},{"t":2001.078,"v":-29.0},{"t":2001.110,"v":-36.7},{"t":2001.142,"v":-43.2},{"t":2001.174,"v":-48.6},{"t":2001.206,"v":-53.0},{"t":2001.238,"v":-54.1},{"t":2001.260,"v":-59.5},{"t":2001.286,"v":-47.5},{"t":2001.318,"v":-45.4},{"t":2001.350,"v":-46.4},{"t":2001.382,"v":-45.4},{"t":2001.414,"v":-47.5},{"t":2001.446,"v":-49.7},{"t":2001.478,"v":-49.7},{"t":2001.510,"v":-51.9},{"t":2001.558,"v":-51.9},{"t":2001.590,"v":-53.0},{"t":2001.622,"v":-56.2},{"t":2001.654,"v":-58.4},{"t":2001.692,"v":-68.2},{"t":2001.734,"v":-65.5},{"t":2001.782,"v":-60.6},{"t":2001.830,"v":-56.2},{"t":2001.894,"v":-53.0},{"t":2001.942,"v":-54.6},{"t":2001.990,"v":-53.0},{"t":2002.038,"v":-56.2},{"t":2002.102,"v":-59.5},{"t":2002.150,"v":-56.2},{"t":2002.198,"v":-58.4},{"t":2002.246,"v":-61.1},{"t":2002.294,"v":-66.0},{"t":2002.342,"v":-62.8},{"t":2002.390,"v":-67.7},{"t":2002.438,"v":-70.9},{"t":2002.486,"v":-70.4},
      {"t":2002.502,"v":-71.3},{"t":2002.550,"v":-75.2},{"t":2002.582,"v":-73.6},{"t":2002.614,"v":-71.3},{"t":2002.646,"v":-74.2},{"t":2002.678,"v":-74.7},{"t":2002.710,"v":-75.2},{"t":2002.732,"v":-77.5},{"t":2002.758,"v":-75.2},{"t":2002.790,"v":-72.5},{"t":2002.838,"v":-70.8},{"t":2002.870,"v":-68.5},{"t":2002.902,"v":-70.2},{"t":2002.934,"v":-71.9},{"t":2002.982,"v":-69.7},{"t":2003.014,"v":-71.9},{"t":2003.046,"v":-72.5},{"t":2003.078,"v":-73.0},{"t":2003.126,"v":-71.9},{"t":2003.174,"v":-70.8},{"t":2003.222,"v":-69.7},{"t":2003.270,"v":-69.1},{"t":2003.318,"v":-68.0},{"t":2003.366,"v":-67.4},{"t":2003.414,"v":-65.7},{"t":2003.462,"v":-65.2},{"t":2003.510,"v":-64.0},{"t":2003.542,"v":-64.6},{"t":2003.574,"v":-65.7},{"t":2003.606,"v":-63.5},{"t":2003.654,"v":-61.8},{"t":2003.702,"v":-61.2},{"t":2003.734,"v":-61.8},{"t":2003.782,"v":-60.7},{"t":2003.830,"v":-60.1},{"t":2003.862,"v":-61.2},{"t":2003.894,"v":-60.1},{"t":2003.942,"v":-59.6},{"t":2003.990,"v":-58.4},{"t":2004.021,"v":-56.2},{"t":2004.069,"v":-57.3},{"t":2004.117,"v":-57.9},{"t":2004.165,"v":-59.0},{"t":2004.197,"v":-60.7},{"t":2004.229,"v":-59.0},{"t":2004.277,"v":-59.0},{"t":2004.309,"v":-60.1},{"t":2004.357,"v":-60.7},{"t":2004.405,"v":-59.0},{"t":2004.453,"v":-58.4},{"t":2004.485,"v":-59.0},{"t":2004.517,"v":-60.7},{"t":2004.565,"v":-62.9},{"t":2004.597,"v":-61.8},{"t":2004.629,"v":-60.7},{"t":2004.677,"v":-60.1},{"t":2004.725,"v":-59.6},{"t":2004.773,"v":-60.1},{"t":2004.821,"v":-57.9},{"t":2004.869,"v":-55.6},{"t":2004.917,"v":-55.1},{"t":2004.965,"v":-54.5},{"t":2004.997,"v":-55.6},{"t":2005.029,"v":-57.3},{"t":2005.077,"v":-56.7},{"t":2005.125,"v":-57.3},{"t":2005.173,"v":-57.9},{"t":2005.205,"v":-58.4},{"t":2005.237,"v":-59.0},{"t":2005.269,"v":-60.7},{"t":2005.317,"v":-59.6},{"t":2005.365,"v":-56.7},{"t":2005.413,"v":-56.7},{"t":2005.461,"v":-57.9},{"t":2005.509,"v":-55.6},{"t":2005.557,"v":-55.1},{"t":2005.605,"v":-55.6},{"t":2005.653,"v":-55.1},{"t":2005.701,"v":-55.6},{"t":2005.749,"v":-56.2},{"t":2005.781,"v":-56.7},{"t":2005.813,"v":-55.1},{"t":2005.861,"v":-52.8},{"t":2005.909,"v":-51.7},{"t":2005.957,"v":-52.2},{"t":2006.005,"v":-51.1},{"t":2006.037,"v":-52.8},{"t":2006.085,"v":-52.2},{"t":2006.133,"v":-53.4},{"t":2006.181,"v":-52.8},{"t":2006.229,"v":-51.7},{"t":2006.277,"v":-51.7},{"t":2006.325,"v":-51.7},{"t":2006.357,"v":-53.9},{"t":2006.389,"v":-55.1},{"t":2006.414,"v":-56.2},
      {"t":2006.436,"v":-56.2},{"t":2006.468,"v":-56.8},{"t":2006.500,"v":-57.4},{"t":2006.522,"v":-59.3},{"t":2006.548,"v":-58.7},{"t":2006.580,"v":-57.4},{"t":2006.612,"v":-56.2},{"t":2006.644,"v":-55.6},{"t":2006.692,"v":-54.3},{"t":2006.740,"v":-53.1},{"t":2006.772,"v":-51.8},{"t":2006.820,"v":-51.8},{"t":2006.868,"v":-49.3},{"t":2006.900,"v":-49.9},{"t":2006.932,"v":-50.6},{"t":2006.964,"v":-49.9},{"t":2007.012,"v":-48.1},{"t":2007.044,"v":-49.9},{"t":2007.092,"v":-49.3},{"t":2007.124,"v":-48.1},{"t":2007.156,"v":-51.2},{"t":2007.204,"v":-49.9},{"t":2007.252,"v":-48.7},{"t":2007.300,"v":-46.8},{"t":2007.348,"v":-46.2},{"t":2007.396,"v":-46.2},{"t":2007.444,"v":-45.6},{"t":2007.476,"v":-45.0},{"t":2007.524,"v":-43.1},{"t":2007.556,"v":-44.3},{"t":2007.604,"v":-46.8},{"t":2007.636,"v":-45.0},{"t":2007.668,"v":-43.7},{"t":2007.700,"v":-41.8},{"t":2007.732,"v":-39.3},{"t":2007.780,"v":-38.7},{"t":2007.812,"v":-38.1},{"t":2007.844,"v":-42.5},{"t":2007.876,"v":-41.8},{"t":2007.907,"v":-40.0},{"t":2007.939,"v":-40.6},{"t":2007.971,"v":-42.5},{"t":2008.003,"v":-45.6},{"t":2008.035,"v":-48.1},{"t":2008.067,"v":-49.9},{"t":2008.115,"v":-49.9},{"t":2008.163,"v":-51.8},{"t":2008.211,"v":-50.6},{"t":2008.243,"v":-48.7},{"t":2008.275,"v":-46.2},{"t":2008.307,"v":-45.0},{"t":2008.355,"v":-42.5},{"t":2008.403,"v":-44.3},{"t":2008.451,"v":-46.8},{"t":2008.499,"v":-48.7},{"t":2008.547,"v":-48.7},{"t":2008.595,"v":-45.0},{"t":2008.627,"v":-46.2},{"t":2008.659,"v":-49.3},{"t":2008.707,"v":-51.2},{"t":2008.730,"v":-56.2},{"t":2008.749,"v":-62.4},{"t":2008.771,"v":-64.3},{"t":2008.803,"v":-63.1},{"t":2008.835,"v":-66.2},{"t":2008.874,"v":-70.6},{"t":2008.899,"v":-66.8},{"t":2008.931,"v":-66.2},{"t":2008.963,"v":-64.9},{"t":2008.995,"v":-65.6},{"t":2009.027,"v":-66.2},{"t":2009.059,"v":-66.8},{"t":2009.091,"v":-64.3},{"t":2009.123,"v":-67.4},{"t":2009.158,"v":-70.6},{"t":2009.187,"v":-67.4},{"t":2009.219,"v":-64.3},{"t":2009.267,"v":-62.4},{"t":2009.315,"v":-61.2},{"t":2009.363,"v":-60.6},{"t":2009.395,"v":-58.7},{"t":2009.443,"v":-58.1},{"t":2009.475,"v":-59.3},{"t":2009.507,"v":-59.9},{"t":2009.539,"v":-55.6},{"t":2009.587,"v":-54.9},{"t":2009.635,"v":-53.1},{"t":2009.683,"v":-51.8},{"t":2009.715,"v":-52.4},{"t":2009.763,"v":-51.2},{"t":2009.811,"v":-51.2},{"t":2009.859,"v":-49.9},{"t":2009.907,"v":-49.3},{"t":2009.955,"v":-48.1},{"t":2010.003,"v":-47.5},{"t":2010.035,"v":-48.7},{"t":2010.067,"v":-51.2},{"t":2010.115,"v":-49.9},{"t":2010.147,"v":-48.1},{"t":2010.195,"v":-46.2},{"t":2010.243,"v":-45.0},{"t":2010.291,"v":-42.5},{"t":2010.323,"v":-46.2},{"t":2010.355,"v":-46.8},
      {"t":2010.403,"v":-47.6},{"t":2010.435,"v":-46.3},{"t":2010.457,"v":-48.2},{"t":2010.483,"v":-52.1},{"t":2010.515,"v":-48.2},{"t":2010.563,"v":-47.0},{"t":2010.595,"v":-47.6},{"t":2010.627,"v":-48.9},{"t":2010.659,"v":-47.0},{"t":2010.691,"v":-44.4},{"t":2010.723,"v":-43.2},{"t":2010.771,"v":-40.6},{"t":2010.828,"v":-38.7},{"t":2010.867,"v":-39.4},{"t":2010.915,"v":-38.1},{"t":2010.963,"v":-37.5},{"t":2010.995,"v":-36.8},{"t":2011.027,"v":-34.3},{"t":2011.059,"v":-35.5},{"t":2011.107,"v":-33.0},{"t":2011.139,"v":-33.0},{"t":2011.187,"v":-36.8},{"t":2011.219,"v":-34.3},{"t":2011.267,"v":-34.3},{"t":2011.299,"v":-32.4},{"t":2011.347,"v":-33.0},{"t":2011.379,"v":-34.3},{"t":2011.411,"v":-36.8},{"t":2011.449,"v":-38.1},{"t":2011.491,"v":-33.0},{"t":2011.539,"v":-31.1},{"t":2011.571,"v":-36.8},{"t":2011.603,"v":-39.4},{"t":2011.619,"v":-43.2},{"t":2011.651,"v":-36.8},{"t":2011.692,"v":-34.3},{"t":2011.731,"v":-39.4},{"t":2011.763,"v":-33.0},{"t":2011.811,"v":-31.7},{"t":2011.843,"v":-33.6},{"t":2011.875,"v":-36.8},{"t":2011.891,"v":-40.0},{"t":2011.907,"v":-35.5},{"t":2011.955,"v":-36.8},{"t":2011.987,"v":-34.9},{"t":2012.019,"v":-33.6},{"t":2012.050,"v":-30.5},{"t":2012.098,"v":-28.6},{"t":2012.146,"v":-26.7},{"t":2012.194,"v":-24.1},{"t":2012.226,"v":-22.2},{"t":2012.258,"v":-22.9},{"t":2012.290,"v":-24.1},{"t":2012.322,"v":-22.9},{"t":2012.354,"v":-27.3},{"t":2012.370,"v":-29.2},{"t":2012.402,"v":-30.5},{"t":2012.434,"v":-27.9},{"t":2012.482,"v":-26.7},{"t":2012.530,"v":-26.7},{"t":2012.578,"v":-24.8},{"t":2012.626,"v":-21.6},{"t":2012.674,"v":-19.7},{"t":2012.706,"v":-20.3},{"t":2012.754,"v":-21.6},
      {"t":2012.802,"v":-24.8},{"t":2012.834,"v":-25.7},{"t":2012.866,"v":-28.4},{"t":2012.898,"v":-24.8},{"t":2012.946,"v":-25.7},{"t":2012.978,"v":-25.7},{"t":2013.010,"v":-22.1},{"t":2013.058,"v":-22.1},{"t":2013.106,"v":-22.1},{"t":2013.154,"v":-21.2},{"t":2013.202,"v":-20.3},{"t":2013.234,"v":-21.2},{"t":2013.266,"v":-19.4},{"t":2013.298,"v":-21.2},{"t":2013.330,"v":-16.7},{"t":2013.362,"v":-14.8},{"t":2013.410,"v":-15.8},{"t":2013.458,"v":-18.5},{"t":2013.506,"v":-15.8},{"t":2013.554,"v":-12.1},{"t":2013.602,"v":-13.0},{"t":2013.634,"v":-12.1},{"t":2013.682,"v":-10.3},{"t":2013.730,"v":-8.5},{"t":2013.762,"v":-8.5},{"t":2013.794,"v":-4.9},{"t":2013.842,"v":-4.0},{"t":2013.890,"v":-2.2},{"t":2013.922,"v":-1.3},{"t":2013.970,"v":-0.4},{"t":2014.002,"v":0.5},{"t":2014.034,"v":-0.4},{"t":2014.066,"v":-0.4},{"t":2014.114,"v":3.3},{"t":2014.162,"v":4.2},{"t":2014.194,"v":3.3},{"t":2014.232,"v":0.5},{"t":2014.264,"v":-3.1},{"t":2014.289,"v":-0.4},{"t":2014.337,"v":-0.4},{"t":2014.385,"v":3.3},{"t":2014.433,"v":6.9},{"t":2014.481,"v":8.7},{"t":2014.513,"v":9.6},{"t":2014.561,"v":9.6},{"t":2014.593,"v":11.4},{"t":2014.641,"v":15.0},{"t":2014.689,"v":15.0},{"t":2014.721,"v":14.1},{"t":2014.753,"v":11.4},{"t":2014.785,"v":7.8},{"t":2014.817,"v":16.8},{"t":2014.865,"v":20.5},{"t":2014.897,"v":22.3},{"t":2014.936,"v":19.6},{"t":2014.961,"v":22.3},{"t":2015.009,"v":20.5},{"t":2015.041,"v":16.8},{"t":2015.073,"v":18.6},{"t":2015.089,"v":16.8},{"t":2015.121,"v":23.2},{"t":2015.147,"v":24.24}
    ],
    "last": [
      {"s":"mid","v":244.07},
      {"s":"rut","v":150.87},
      {"s":"spx","v":45.71},
      {"s":"ndx","v":24.24},
      {"s":"zero","v":0}
    ]
  },
  "layer": [
    {
      "data": {"values": [{}]},
      "mark": {"type": "rule", "color": "#333333", "strokeWidth": 1, "strokeDash": [1, 2]},
      "encoding": {"x": {"datum": 2000}}
    },
    {
      "data": {"values": [{}]},
      "mark": {"type": "rule", "color": "black", "strokeWidth": 1.6, "strokeDash": [2, 2]},
      "encoding": {"y": {"datum": 0}}
    },
    {
      "encoding": {
        "x": {
          "field": "t",
          "type": "quantitative",
          "title": null,
          "scale": {"domain": [1998.474, 2015.144], "nice": false, "zero": false},
          "axis": {
            "values": [1998.75, 1999.25, 1999.75, 2000.25, 2000.75, 2001.25, 2001.75, 2002.25, 2002.75, 2003.25, 2003.75, 2004.25, 2004.75, 2005.25, 2005.75, 2006.25, 2006.75, 2007.25, 2007.75, 2008.25, 2008.75, 2009.25, 2009.75, 2010.25, 2010.75, 2011.25, 2011.75, 2012.25, 2012.75, 2013.25, 2013.75, 2014.25, 2014.75],
            "labelExpr": "(datum.value % 1 > 0.5 ? 'oct-' : 'abr-') + slice('' + (100 + floor(datum.value) % 100), 1)",
            "labelColor": "white",
            "labelFont": "DejaVu Sans Condensed",
            "labelFontWeight": "bold",
            "labelFontSize": 9,
            "labelPadding": 3,
            "labelOverlap": false,
            "labelFlush": false,
            "labelBound": false,
            "ticks": false,
            "domain": false,
            "grid": false
          }
        },
        "y": {
          "field": "v",
          "type": "quantitative",
          "scale": {"domain": [-93.1, 259.6], "nice": false, "zero": false}
        }
      },
      "layer": [
        {"data": {"name": "spx"}, "mark": {"type": "line", "color": "#808080", "strokeWidth": 1.4}},
        {"data": {"name": "mid"}, "mark": {"type": "line", "color": "#FFA500", "strokeWidth": 1.5}},
        {"data": {"name": "rut"}, "mark": {"type": "line", "color": "#008000", "strokeWidth": 1.5}},
        {"data": {"name": "ndx"}, "mark": {"type": "line", "color": "#FF0000", "strokeWidth": 1.4}}
      ]
    },
    {
      "data": {"name": "last"},
      "transform": [{"filter": "datum.s != 'zero'"}],
      "mark": {"type": "point", "filled": true, "opacity": 1, "strokeWidth": 0},
      "encoding": {
        "x": {"datum": 2015.319},
        "y": {"field": "v", "type": "quantitative"},
        "size": {"value": 1089},
        "shape": {
          "condition": {"test": "datum.v > 100", "value": "M-1,-0.364L1,-0.364L1,0.364L-1,0.364Z"},
          "value": "M-1,-0.364L0.66,-0.364L0.66,0.364L-1,0.364Z"
        },
        "color": {
          "field": "s",
          "type": "nominal",
          "scale": {"domain": ["mid", "rut", "spx", "ndx"], "range": ["#FFA500", "#008000", "#808080", "#FF0000"]},
          "legend": null
        }
      }
    },
    {
      "data": {"name": "last"},
      "mark": {"type": "text", "align": "left", "baseline": "middle", "font": "DejaVu Sans Condensed", "fontSize": 9},
      "encoding": {
        "x": {"datum": 2015.185},
        "y": {"field": "v", "type": "quantitative"},
        "text": {"field": "v", "type": "quantitative", "format": ".2f"},
        "color": {
          "condition": [
            {"test": "datum.s == 'rut'", "value": "white"},
            {"test": "datum.s == 'zero'", "value": "#dce8f8"}
          ],
          "value": "black"
        }
      }
    },
    {
      "data": {"values": [{}]},
      "mark": {"type": "text", "align": "center", "baseline": "alphabetic", "font": "Liberation Serif", "fontSize": 18, "color": "#808080"},
      "encoding": {"x": {"datum": 2001.598}, "y": {"datum": 251.4}, "text": {"value": "S&P 500"}}
    },
    {
      "data": {"values": [{}]},
      "mark": {"type": "text", "align": "center", "baseline": "alphabetic", "font": "Liberation Serif", "fontSize": 18, "color": "#FFA500"},
      "encoding": {"x": {"datum": 2001.598}, "y": {"datum": 244.5}, "text": {"value": "S&P 400 (Mid Cap)"}}
    },
    {
      "data": {"values": [{}]},
      "mark": {"type": "text", "align": "center", "baseline": "alphabetic", "font": "Liberation Serif", "fontSize": 18, "color": "#008000"},
      "encoding": {"x": {"datum": 2001.598}, "y": {"datum": 237.7}, "text": {"value": "Russell 2000 (Small cap)"}}
    },
    {
      "data": {"values": [{}]},
      "mark": {"type": "text", "align": "center", "baseline": "alphabetic", "font": "Liberation Serif", "fontSize": 18, "color": "#FF0000"},
      "encoding": {"x": {"datum": 2001.598}, "y": {"datum": 230.8}, "text": {"value": "Nasdaq 100 (Tecnología)"}}
    },
    {
      "data": {"values": [{}]},
      "mark": {"type": "text", "align": "center", "baseline": "middle", "font": "DejaVu Sans", "fontSize": 10, "color": "#707070"},
      "encoding": {"x": {"datum": 1998.575}, "y": {"datum": 258.5}, "text": {"value": "⊟"}}
    },
    {
      "data": {"values": [{}]},
      "mark": {"type": "text", "align": "left", "baseline": "alphabetic", "font": "DejaVu Sans", "fontSize": 8, "color": "#808080"},
      "encoding": {"x": {"datum": 1998.695}, "y": {"datum": 256.7}, "text": {"value": "^GSPC"}}
    },
    {
      "data": {"values": [{}]},
      "mark": {"type": "text", "align": "left", "baseline": "alphabetic", "font": "DejaVu Sans", "fontSize": 8, "color": "#FFA500"},
      "encoding": {"x": {"datum": 1998.695}, "y": {"datum": 252.8}, "text": {"value": "^MID"}}
    },
    {
      "data": {"values": [{}]},
      "mark": {"type": "text", "align": "left", "baseline": "alphabetic", "font": "DejaVu Sans", "fontSize": 8, "color": "#FF0000"},
      "encoding": {"x": {"datum": 1998.695}, "y": {"datum": 248.9}, "text": {"value": "^NDX"}}
    },
    {
      "data": {"values": [{}]},
      "mark": {"type": "text", "align": "left", "baseline": "alphabetic", "font": "DejaVu Sans", "fontSize": 8, "color": "#008000"},
      "encoding": {"x": {"datum": 1998.695}, "y": {"datum": 244.9}, "text": {"value": "^RUT"}}
    },
    {
      "data": {"values": [{}]},
      "mark": {"type": "text", "align": "left", "baseline": "alphabetic", "font": "DejaVu Sans", "fontSize": 8, "color": "#000080"},
      "encoding": {"x": {"datum": 1998.695}, "y": {"datum": 241.0}, "text": {"value": "Rendimiento desde 01/01/2000"}}
    }
  ]
}
